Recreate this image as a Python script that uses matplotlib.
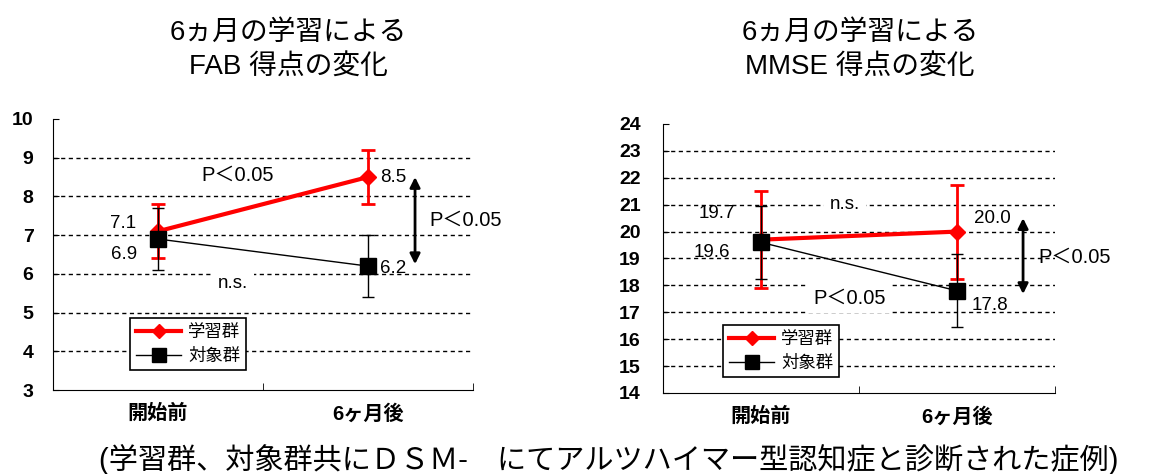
import matplotlib
matplotlib.use("Agg")
import matplotlib.pyplot as plt
from matplotlib.lines import Line2D

plt.rcParams['font.family'] = ['Liberation Sans', 'Noto Sans CJK JP', 'DejaVu Sans']

categories = ['開始前', '6ヶ月後']
group_labels = ['学習群', '対象群']

# FAB score
fab_study = [7.1, 8.5]
fab_study_sd = [0.7, 0.7]
fab_control = [6.9, 6.2]
fab_control_sd = [0.8, 0.8]

# MMSE score
mmse_study = [19.7, 20.0]
mmse_study_sd = [1.8, 1.75]
mmse_control = [19.6, 17.8]
mmse_control_sd = [1.35, 1.35]

titles = ['6ヵ月の学習による\nFAB 得点の変化', '6ヵ月の学習による\nMMSE 得点の変化']
caption = '(学習群、対象群共にＤＳＭ-　にてアルツハイマー型認知症と診断された症例)'

fig = plt.figure(figsize=(11.5, 4.74), dpi=100)
ax1 = fig.add_axes([0.0461, 0.1772, 0.3652, 0.5718])
ax2 = fig.add_axes([0.5765, 0.1709, 0.3409, 0.5675])


def draw_panel(ax, study, study_sd, control, control_sd, ylim, ypad, legend_pos):
    x = list(range(len(categories)))
    ax.errorbar(x, study, yerr=study_sd, color='#ff0000', lw=3, marker='D', ms=8,
                elinewidth=2, capsize=5, capthick=2, zorder=3)
    ax.errorbar(x, control, yerr=control_sd, color='black', lw=1, marker='s', ms=11,
                elinewidth=1, capsize=4, capthick=1, zorder=4)
    ax.set_xlim(-0.5, 1.5)
    ax.set_ylim(*ylim)
    ax.set_yticks(range(ylim[0], ylim[1] + 1))
    for v in range(ylim[0] + 1, ylim[1]):
        ax.axhline(v, color='black', lw=1, ls=(0, (3, 2.5)), zorder=1)
    ax.set_xticks(x)
    ax.set_xticklabels(categories, fontsize=14.5, fontweight='bold')
    ax.set_xticks([0.5, 1.5], minor=True)
    ax.tick_params(axis='x', which='major', length=0, pad=10)
    ax.tick_params(axis='x', which='minor', direction='in', length=5)
    ax.tick_params(axis='y', direction='in', length=4, pad=ypad, labelsize=14)
    for lab in ax.get_yticklabels():
        lab.set_fontweight('bold')
    for s in ['top', 'right']:
        ax.spines[s].set_visible(False)
    handles = [Line2D([], [], color='#ff0000', lw=3, marker='D', ms=7),
               Line2D([], [], color='black', lw=1, marker='s', ms=10)]
    leg = ax.legend(handles, group_labels, loc='lower left', bbox_to_anchor=legend_pos,
                    fontsize=12.5, frameon=True, fancybox=False, edgecolor='black',
                    framealpha=1, handlelength=2.6, handletextpad=0.4,
                    borderpad=0.35, labelspacing=0.45, borderaxespad=0)
    leg.get_frame().set_linewidth(1.2)
    leg.set_zorder(5)


draw_panel(ax1, fab_study, fab_study_sd, fab_control, fab_control_sd, (3, 10), 14, (0.183, 0.074))
draw_panel(ax2, mmse_study, mmse_study_sd, mmse_control, mmse_control_sd, (14, 24), 16, (0.153, 0.059))

white = dict(facecolor='white', edgecolor='none', pad=4)

# FAB annotations
ax1.text(-0.167, 7.31, f'{fab_study[0]:.1f}', fontsize=13.5, ha='center', va='center')
ax1.text(-0.162, 6.51, f'{fab_control[0]:.1f}', fontsize=13.5, ha='center', va='center')
ax1.text(1.119, 8.50, f'{fab_study[1]:.1f}', fontsize=13.5, ha='center', va='center')
ax1.text(1.119, 6.15, f'{fab_control[1]:.1f}', fontsize=13.5, ha='center', va='center')
ax1.text(0.381, 8.55, 'P＜0.05', fontsize=14.5, ha='center', va='center')
ax1.text(0.357, 5.74, 'n.s.', fontsize=13.5, ha='center', va='center', bbox=white, zorder=2)
ax1.annotate('', xy=(1.224, 8.5), xytext=(1.224, 6.25),
             arrowprops=dict(arrowstyle='<|-|>', color='black', lw=2, mutation_scale=15,
                             shrinkA=0, shrinkB=0))
ax1.text(1.467, 7.39, 'P＜0.05', fontsize=14.5, ha='center', va='center')

# MMSE annotations
ax2.text(-0.224, 20.69, f'{mmse_study[0]:.1f}', fontsize=13.5, ha='center', va='center')
ax2.text(-0.25, 19.24, f'{mmse_control[0]:.1f}', fontsize=13.5, ha='center', va='center')
ax2.text(1.179, 20.5, f'{mmse_study[1]:.1f}', fontsize=13.5, ha='center', va='center')
ax2.text(1.168, 17.27, f'{mmse_control[1]:.1f}', fontsize=13.5, ha='center', va='center')
ax2.text(0.429, 20.99, 'n.s.', fontsize=13.5, ha='center', va='center', bbox=white, zorder=2)
ax2.text(0.454, 17.53, 'P＜0.05', fontsize=14.5, ha='center', va='center', bbox=white, zorder=2)
ax2.annotate('', xy=(1.337, 20.5), xytext=(1.337, 17.68),
             arrowprops=dict(arrowstyle='<|-|>', color='black', lw=2, mutation_scale=15,
                             shrinkA=0, shrinkB=0))
ax2.text(1.602, 19.06, 'P＜0.05', fontsize=14.5, ha='center', va='center')

fig.text(0.251, 0.895, titles[0], fontsize=20, ha='center', va='center', linespacing=1.4)
fig.text(0.748, 0.895, titles[1], fontsize=20, ha='center', va='center', linespacing=1.4)
fig.text(0.529, 0.03, caption, fontsize=21, ha='center', va='center')

fig.savefig('out.png', dpi=100)
